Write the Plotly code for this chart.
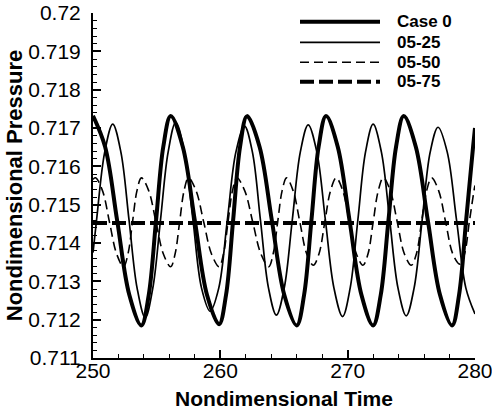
import plotly.graph_objects as go

# ---------------- data ----------------
case0_t = [250.0, 250.95, 251.9, 252.85, 253.8, 254.38, 254.95, 255.52, 256.1,
           257.05, 258.0, 258.95, 259.9, 260.45, 261.0, 261.55, 262.1,
           263.08, 264.05, 265.02, 266.0, 266.58, 267.15, 267.72, 268.3,
           269.22, 270.15, 271.08, 272.0, 272.6, 273.2, 273.8, 274.4,
           275.35, 276.3, 277.25, 278.2, 278.75, 279.3, 279.85, 280.0]
case0_p = [0.71732, 0.71651, 0.71458, 0.71265, 0.71185, 0.71265, 0.71458, 0.71651, 0.71731,
           0.71651, 0.71458, 0.71265, 0.71188, 0.71265, 0.71458, 0.71651, 0.71731,
           0.71651, 0.71458, 0.71265, 0.71185, 0.71265, 0.71458, 0.71651, 0.71731,
           0.71651, 0.71458, 0.71265, 0.71185, 0.71265, 0.71458, 0.71651, 0.71731,
           0.71651, 0.71458, 0.71265, 0.71185, 0.71265, 0.71458, 0.71651, 0.71700]

c0525_t = [250.0, 250.28, 250.92, 251.55, 252.19, 252.83, 253.46, 254.1,
           254.7, 255.3, 255.9, 256.5, 257.18, 257.85, 258.52, 259.2,
           259.88, 260.55, 261.22, 261.9, 262.52, 263.15, 263.78, 264.4,
           265.02, 265.65, 266.28, 266.9, 267.58, 268.25, 268.92, 269.6,
           270.2, 270.8, 271.4, 272.0, 272.65, 273.3, 273.95, 274.6,
           275.22, 275.85, 276.48, 277.1, 277.82, 278.55, 279.28, 280.0]
c0525_p = [0.71375, 0.71460, 0.71637, 0.71710, 0.71637, 0.71460, 0.71283, 0.71205,
           0.71283, 0.71460, 0.71637, 0.71715, 0.71637, 0.71460, 0.71283, 0.71222,
           0.71283, 0.71460, 0.71637, 0.71705, 0.71637, 0.71460, 0.71283, 0.71212,
           0.71283, 0.71460, 0.71637, 0.71708, 0.71637, 0.71460, 0.71283, 0.71208,
           0.71283, 0.71460, 0.71637, 0.71710, 0.71637, 0.71460, 0.71283, 0.71210,
           0.71283, 0.71460, 0.71637, 0.71702, 0.71637, 0.71460, 0.71283, 0.71215]

c0550_t = [250.0, 250.2, 250.75, 251.3, 251.85, 252.4, 252.75, 253.1, 253.45, 253.8,
           254.38, 254.95, 255.52, 256.1, 256.45, 256.8, 257.15, 257.5,
           258.1, 258.7, 259.3, 259.9, 260.25, 260.6, 260.95, 261.3,
           261.92, 262.55, 263.18, 263.8, 264.15, 264.5, 264.85, 265.2,
           265.72, 266.25, 266.78, 267.3, 267.75, 268.2, 268.65, 269.1,
           269.62, 270.15, 270.68, 271.2, 271.6, 272.0, 272.4, 272.8,
           273.35, 273.9, 274.45, 275.0, 275.4, 275.8, 276.2, 276.6,
           277.15, 277.7, 278.25, 278.8, 279.18, 279.55, 279.92, 280.0]
c0550_p = [0.71566, 0.71570, 0.71536, 0.71454, 0.71372, 0.71338, 0.71372, 0.71454, 0.71536, 0.71570,
           0.71536, 0.71454, 0.71372, 0.71338, 0.71372, 0.71454, 0.71536, 0.71570,
           0.71536, 0.71454, 0.71372, 0.71338, 0.71372, 0.71454, 0.71536, 0.71570,
           0.71536, 0.71454, 0.71372, 0.71338, 0.71372, 0.71454, 0.71536, 0.71570,
           0.71536, 0.71454, 0.71372, 0.71342, 0.71372, 0.71454, 0.71536, 0.71570,
           0.71536, 0.71454, 0.71372, 0.71342, 0.71372, 0.71454, 0.71536, 0.71570,
           0.71536, 0.71454, 0.71372, 0.71342, 0.71372, 0.71454, 0.71536, 0.71570,
           0.71536, 0.71454, 0.71372, 0.71345, 0.71372, 0.71454, 0.71536, 0.71550]

c0575_t = [250.0, 280.0]
c0575_p = [0.71452, 0.71452]

series_names = ["Case 0", "05-25", "05-50", "05-75"]

x_tickvals = [250, 260, 270, 280]
x_ticktext = ["250", "260", "270", "280"]
y_tickvals = [0.711, 0.712, 0.713, 0.714, 0.715, 0.716, 0.717, 0.718, 0.719, 0.72]
y_ticktext = ["0.711", "0.712", "0.713", "0.714", "0.715", "0.716", "0.717", "0.718", "0.719", "0.72"]

x_title = "Nondimensional Time"
y_title = "Nondimensional Pressure"

# ---------------- styles ----------------
FONT = "Liberation Sans, Arial, Helvetica, sans-serif"
styles = [
    dict(color="black", width=4, dash="solid"),
    dict(color="black", width=1.7, dash="solid"),
    dict(color="black", width=1.6, dash="9px,5px"),
    dict(color="black", width=4, dash="14px,5px"),
]
data = [(case0_t, case0_p), (c0525_t, c0525_p), (c0550_t, c0550_p), (c0575_t, c0575_p)]

fig = go.Figure()
for (t, p), name, st in zip(data, series_names, styles):
    fig.add_trace(go.Scatter(x=t, y=p, mode="lines", name=name, showlegend=False,
                             line=dict(color=st["color"], width=st["width"], dash=st["dash"],
                                       shape="spline", smoothing=1.0)))

W, H = 492, 416
L, T, R, B = 93, 13, 17, 58
pw, ph = W - L - R, H - T - B
def px2x(px): return (px - L) / pw
def py2y(py): return (H - B - py) / ph

# manual legend (long line samples as in the reference)
rows = [21.7, 42.3, 62.3, 81.7]
for name, st, ry in zip(series_names, styles, rows):
    fig.add_shape(type="line", xref="paper", yref="paper",
                  x0=px2x(300), x1=px2x(380), y0=py2y(ry), y1=py2y(ry),
                  line=dict(color=st["color"], width=st["width"], dash=st["dash"]))
    fig.add_annotation(xref="paper", yref="paper", x=px2x(395), y=py2y(ry),
                       text="<b>%s</b>" % name, showarrow=False, xanchor="left", yanchor="middle",
                       font=dict(family=FONT, size=17, color="black"))

fig.update_layout(
    width=W, height=H,
    margin=dict(l=L, r=R, t=T, b=B, pad=0),
    paper_bgcolor="white", plot_bgcolor="white",
    font=dict(family=FONT, color="black"),
)
fig.update_xaxes(
    range=[250, 280], tickvals=x_tickvals, ticktext=x_ticktext,
    showline=True, linecolor="black", linewidth=2, mirror=False,
    showgrid=False, zeroline=False,
    ticks="inside", ticklen=8, tickwidth=1.5, tickcolor="black",
    minor=dict(dtick=2, tick0=250, ticks="inside", ticklen=4, tickwidth=1, tickcolor="black", showgrid=False),
    tickfont=dict(family=FONT, size=21, color="black"),
    ticklabeloverflow="allow", ticklabelstandoff=-7,
    title=dict(text="<b>%s</b>" % x_title, font=dict(family=FONT, size=21, color="black"), standoff=10),
    automargin=False,
)
fig.update_yaxes(
    range=[0.711, 0.72], tickvals=y_tickvals, ticktext=y_ticktext,
    showline=True, linecolor="black", linewidth=2, mirror=False,
    showgrid=False, zeroline=False,
    ticks="inside", ticklen=8, tickwidth=1.5, tickcolor="black",
    minor=dict(dtick=0.0002, tick0=0.711, ticks="inside", ticklen=4, tickwidth=1, tickcolor="black", showgrid=False),
    tickfont=dict(family=FONT, size=21, color="black"),
    ticklabelstandoff=6, ticklabeloverflow="allow",
    title=dict(text="<b>%s</b>" % y_title, font=dict(family=FONT, size=22, color="black"), standoff=0),
    automargin=False,
)

fig.write_html("out.html", config={"displayModeBar": False},
               post_script="document.body.style.margin='0px';")
